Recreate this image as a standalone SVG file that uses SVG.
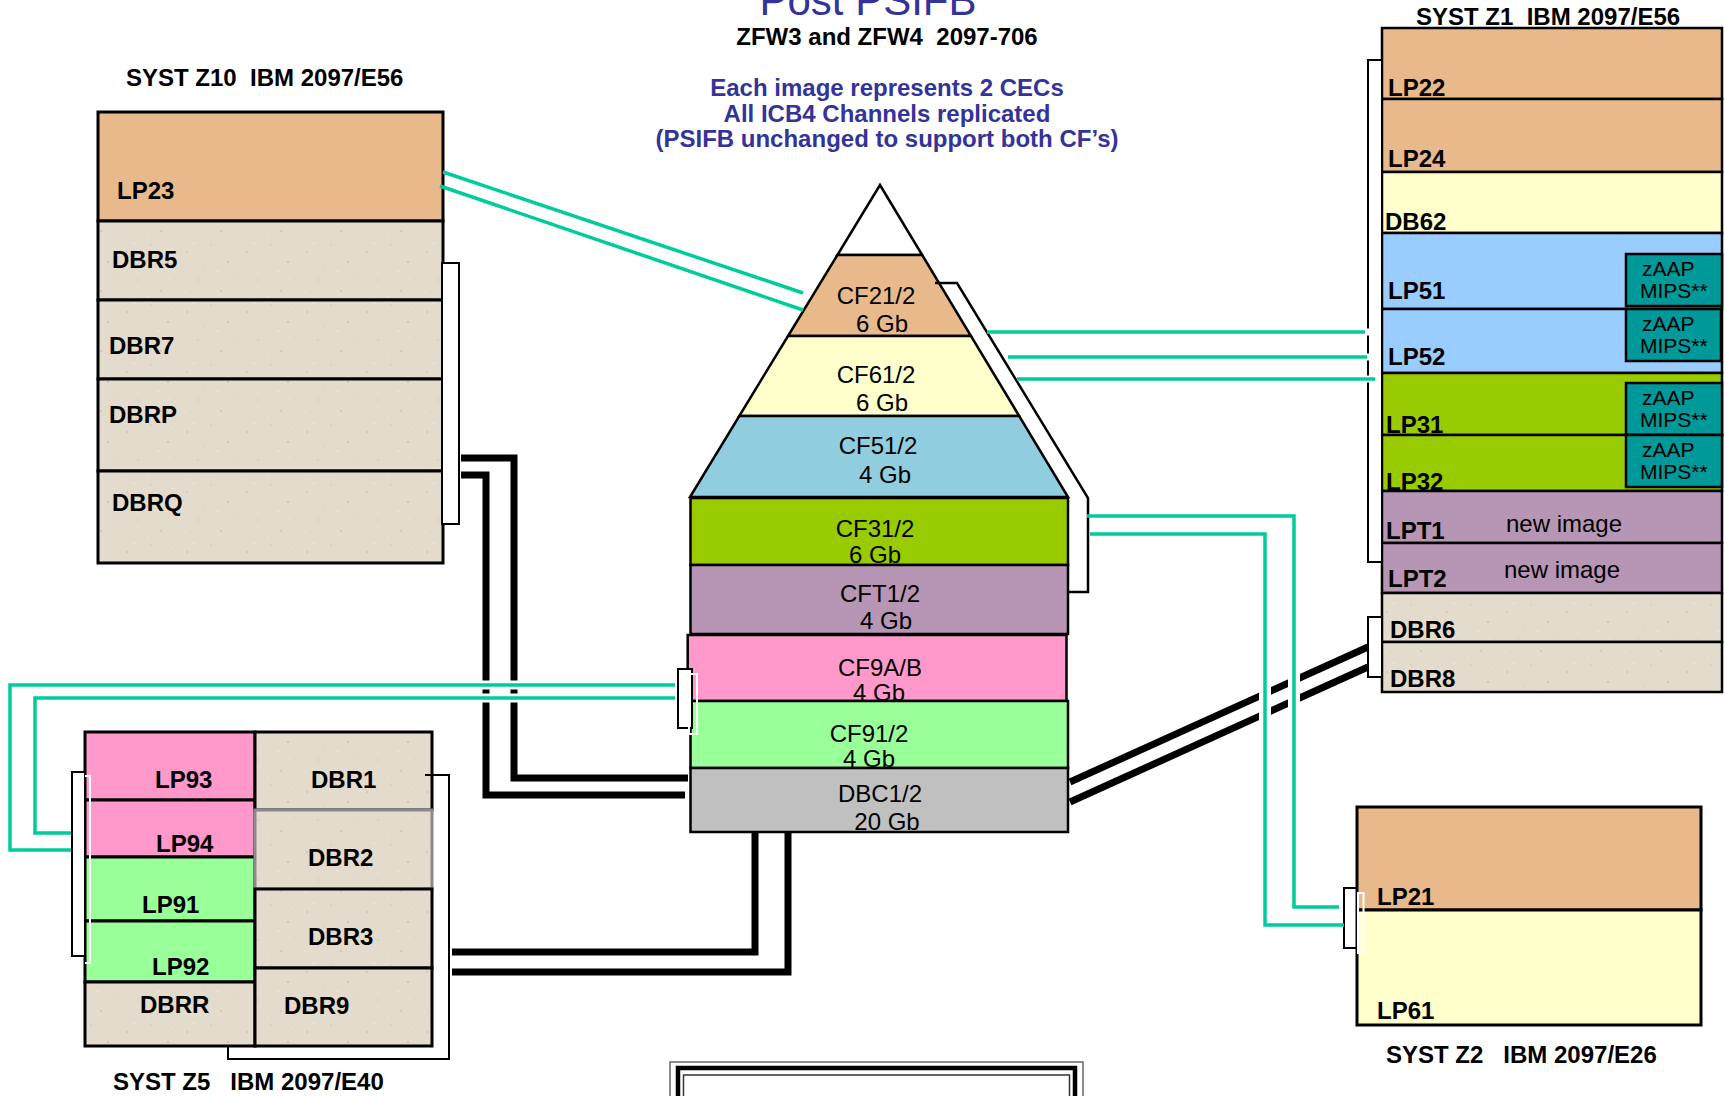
<svg xmlns="http://www.w3.org/2000/svg" width="1725" height="1096" viewBox="0 0 1725 1096">
<style>
text{font-family:"Liberation Sans",Arial,sans-serif;white-space:pre}
.lb{font-weight:bold;font-size:24px;fill:#000}
.cf{font-size:24px;fill:#000;text-anchor:middle}
.z{font-size:21px;fill:#000}
.hd{font-weight:bold;font-size:24px;fill:#333399;text-anchor:middle}
.o{stroke:#000;stroke-width:3}
.o2{stroke:#000;stroke-width:2.5}
.tan{fill:#e8b98a}
.yel{fill:#ffffcc}
.blu{fill:#99ccff}
.lim{fill:#99cc00}
.pur{fill:#b795b4}
.pnk{fill:#ff99cc}
.grn{fill:#99ff99}
.grt{fill:url(#granite)}
.teal{fill:#009999}
.br{fill:#fff;stroke:#000;stroke-width:2}
.wb{fill:none;stroke:#fff;stroke-width:2}
.k{fill:none;stroke:#000;stroke-width:7}
.h{fill:none;stroke:#fff;stroke-width:12}
.g{fill:none;stroke:#00cc99;stroke-width:3.5}
</style>
<defs>
<pattern id="granite" width="60" height="60" patternUnits="userSpaceOnUse">
<rect width="60" height="60" fill="#e3dbcc"/>
<g fill="#cbc1ae"><circle cx="7" cy="12" r="0.9"/><circle cx="31" cy="5" r="0.7"/><circle cx="48" cy="22" r="1"/><circle cx="18" cy="40" r="0.8"/><circle cx="41" cy="51" r="0.9"/><circle cx="55" cy="38" r="0.6"/><circle cx="24" cy="26" r="0.6"/></g>
<g fill="#efe9df"><circle cx="14" cy="3" r="0.9"/><circle cx="38" cy="31" r="1"/><circle cx="5" cy="52" r="0.8"/><circle cx="52" cy="8" r="0.8"/><circle cx="28" cy="57" r="0.7"/></g>
</pattern>
</defs>
<rect width="1725" height="1096" fill="#fff"/>

<g id="titles">
<text x="868" y="15" style="font-size:42px;fill:#333399;text-anchor:middle">Post PSIFB</text>
<text x="887" y="45" class="lb" style="text-anchor:middle">ZFW3 and ZFW4  2097-706</text>
<text x="887" y="96" class="hd">Each image represents 2 CECs</text>
<text x="887" y="122" class="hd">All ICB4 Channels replicated</text>
<text x="887" y="147" class="hd">(PSIFB unchanged to support both CF’s)</text>
</g>

<g id="syst-z10">
<text x="126" y="86" class="lb">SYST Z10  IBM 2097/E56</text>
<g id="lp23"><rect x="98" y="112" width="345" height="109" class="tan o"/><text x="117" y="199" class="lb">LP23</text></g>
<g id="dbr5"><rect x="98" y="221" width="345" height="79" class="grt o"/><text x="112" y="268" class="lb">DBR5</text></g>
<g id="dbr7"><rect x="98" y="300" width="345" height="79" class="grt o"/><text x="109" y="354" class="lb">DBR7</text></g>
<g id="dbrp"><rect x="98" y="379" width="345" height="92" class="grt o"/><text x="109" y="423" class="lb">DBRP</text></g>
<g id="dbrq"><rect x="98" y="471" width="345" height="92" class="grt o"/><text x="112" y="511" class="lb">DBRQ</text></g>
</g>

<g id="syst-z5">
<g id="lp93"><rect x="85" y="732" width="170" height="68" class="pnk o"/><text x="155" y="788" class="lb">LP93</text></g>
<g id="lp94"><rect x="85" y="800" width="170" height="57" class="pnk o"/><text x="156" y="852" class="lb">LP94</text></g>
<g id="lp91"><rect x="85" y="857" width="170" height="64" class="grn o"/><text x="142" y="913" class="lb">LP91</text></g>
<g id="lp92"><rect x="85" y="921" width="170" height="61" class="grn o"/><text x="152" y="975" class="lb">LP92</text></g>
<g id="dbrr"><rect x="85" y="982" width="170" height="64" class="grt o"/><text x="140" y="1013" class="lb">DBRR</text></g>
<g id="dbr1"><rect x="255" y="732" width="177" height="78" class="grt o"/><text x="311" y="788" class="lb">DBR1</text></g>
<g id="dbr2"><rect x="255" y="810" width="177" height="79" class="grt" stroke="#8a8a8a" stroke-width="3"/><text x="308" y="866" class="lb">DBR2</text></g>
<g id="dbr3"><rect x="255" y="889" width="177" height="79" class="grt o"/><text x="308" y="945" class="lb">DBR3</text></g>
<g id="dbr9"><rect x="255" y="968" width="177" height="78" class="grt o"/><text x="284" y="1014" class="lb">DBR9</text></g>
<text x="113" y="1090" class="lb">SYST Z5   IBM 2097/E40</text>
</g>

<g id="syst-z1">
<text x="1416" y="25" class="lb">SYST Z1  IBM 2097/E56</text>
<g id="lp22"><rect x="1382" y="28" width="340" height="71" class="tan o2"/><text x="1388" y="96" class="lb">LP22</text></g>
<g id="lp24"><rect x="1382" y="99" width="340" height="73" class="tan o2"/><text x="1388" y="167" class="lb">LP24</text></g>
<g id="db62"><rect x="1382" y="172" width="340" height="61" class="yel o2"/><text x="1385" y="230" class="lb">DB62</text></g>
<g id="lp51"><rect x="1382" y="233" width="340" height="76" class="blu o2"/><text x="1388" y="299" class="lb">LP51</text>
<rect x="1626" y="254" width="96" height="52" class="teal o2"/><text x="1642" y="276" class="z">zAAP</text><text x="1640" y="298" class="z">MIPS**</text></g>
<g id="lp52"><rect x="1382" y="309" width="340" height="64" class="blu o2"/><text x="1388" y="365" class="lb">LP52</text>
<rect x="1626" y="309" width="95" height="52" class="teal o2"/><text x="1642" y="331" class="z">zAAP</text><text x="1640" y="353" class="z">MIPS**</text></g>
<g id="lp31"><rect x="1382" y="373" width="340" height="62" class="lim o2"/><text x="1386" y="433" class="lb">LP31</text>
<rect x="1626" y="383" width="96" height="52" class="teal o2"/><text x="1642" y="405" class="z">zAAP</text><text x="1640" y="427" class="z">MIPS**</text></g>
<g id="lp32"><rect x="1382" y="435" width="340" height="56" class="lim o2"/><text x="1386" y="490" class="lb">LP32</text>
<rect x="1626" y="435" width="96" height="52" class="teal o2"/><text x="1642" y="457" class="z">zAAP</text><text x="1640" y="479" class="z">MIPS**</text></g>
<g id="lpt1"><rect x="1382" y="491" width="340" height="52" class="pur o2"/><text x="1386" y="539" class="lb">LPT1</text><text x="1564" y="532" class="cf">new image</text></g>
<g id="lpt2"><rect x="1382" y="543" width="340" height="50" class="pur o2"/><text x="1388" y="587" class="lb">LPT2</text><text x="1562" y="578" class="cf">new image</text></g>
<g id="dbr6"><rect x="1382" y="593" width="340" height="49" class="grt o2"/><text x="1390" y="638" class="lb">DBR6</text></g>
<g id="dbr8"><rect x="1382" y="642" width="340" height="50" class="grt o2"/><text x="1390" y="687" class="lb">DBR8</text></g>
</g>

<g id="syst-z2">
<g id="lp21"><rect x="1357" y="807" width="344" height="103" class="tan o"/><text x="1377" y="905" class="lb">LP21</text></g>
<g id="lp61"><rect x="1357" y="910" width="344" height="115" class="yel o"/><text x="1377" y="1019" class="lb">LP61</text></g>
<text x="1386" y="1063" class="lb">SYST Z2   IBM 2097/E26</text>
</g>

<g id="cf-stack">
<g id="apex"><polygon points="880,185 837.4,255 922.2,255" fill="#fff" class="o2"/></g>
<g id="cf21"><polygon points="837.4,255 922.2,255 971,336 788,336" class="tan o2"/><text x="876" y="304" class="cf">CF21/2</text><text x="882" y="332" class="cf">6 Gb</text></g>
<g id="cf61"><polygon points="788,336 971,336 1019.2,416 739.3,416" class="yel o2"/><text x="876" y="383" class="cf">CF61/2</text><text x="882" y="411" class="cf">6 Gb</text></g>
<g id="cf51"><polygon points="739.3,416 1019.2,416 1068,497 690,497" fill="#90cddf" class="o2"/><text x="878" y="454" class="cf">CF51/2</text><text x="885" y="483" class="cf">4 Gb</text></g>
<g id="cf31"><rect x="690.5" y="498" width="377.5" height="67" class="lim o2"/><text x="875" y="537" class="cf">CF31/2</text><text x="875" y="563" class="cf">6 Gb</text></g>
<g id="cft1"><rect x="690.5" y="565" width="377.5" height="69" class="pur o2"/><text x="880" y="602" class="cf">CFT1/2</text><text x="886" y="629" class="cf">4 Gb</text></g>
<g id="cf9ab"><rect x="687.7" y="635" width="378.8" height="66" class="pnk o2"/><text x="880" y="676" class="cf">CF9A/B</text><text x="879" y="701" class="cf">4 Gb</text></g>
<g id="cf91"><rect x="690.5" y="701" width="377.5" height="67" class="grn o2"/><text x="869" y="742" class="cf">CF91/2</text><text x="869" y="767" class="cf">4 Gb</text></g>
<g id="dbc1"><rect x="690.5" y="768" width="377.5" height="64" fill="#c0c0c0" class="o2"/><text x="880" y="802" class="cf">DBC1/2</text><text x="887" y="830" class="cf">20 Gb</text></g>
</g>

<g id="frame">
<rect x="670" y="1062" width="413" height="60" fill="none" stroke="#666" stroke-width="1.5"/>
<rect x="678" y="1068" width="397" height="60" fill="none" stroke="#000" stroke-width="4.5"/>
<rect x="683.5" y="1075" width="386" height="60" fill="none" stroke="#333" stroke-width="1.5"/>
</g>

<g id="connectors">
<rect x="442" y="263" width="17" height="261" class="br"/>
<rect x="72" y="772" width="13" height="184" class="br"/>
<polyline points="85,776 90,776 90,963 85,963" class="wb"/>
<rect x="678" y="669" width="14" height="59" class="br"/>
<rect x="689" y="674" width="8" height="60" class="wb"/>
<rect x="1344" y="888" width="12.5" height="60" class="br"/>
<rect x="1358" y="893" width="5.5" height="60" class="wb"/>
<rect x="1368" y="60" width="14" height="502" class="br"/>
<rect x="1368" y="617" width="14" height="60" class="br"/>
<polyline points="935,283 957,283 1088,498 1088,592 1068,592" fill="none" stroke="#000" stroke-width="2.5"/>
<polyline points="425,775 449,775 449,1059 228,1059 228,1047" fill="none" stroke="#000" stroke-width="2"/>

<path class="k" d="M461,458 H514 V778 H688"/>
<path class="k" d="M461,475 H486 V795 H685"/>
<path class="k" d="M755,832 V952 H452"/>
<path class="k" d="M788,832 V972 H452"/>
<path class="k" d="M1070,782 L1368,647"/>
<path class="k" d="M1070,802 L1368,667"/>

<g id="halos">
<path class="h" style="stroke-width:9" d="M477,685 H495 M505,685 H523 M477,698 H495 M505,698 H523"/>
<path class="h" d="M1294,673 V688 M1294,693 V708 M1265,686 V701 M1265,706 V721"/>
<path class="h" style="stroke-width:7" d="M1361,332 H1375 M1361,357 H1375 M1361,379 H1378"/>
</g>

<path class="g" d="M443,172 L803,293"/>
<path class="g" d="M440,186 L803,310"/>
<path class="g" d="M987,332 H1365"/>
<path class="g" d="M1008,357 H1367"/>
<path class="g" d="M1017,379 H1375"/>
<path class="g" d="M1087,516 H1294 V907 H1339"/>
<path class="g" d="M1090,534 H1265 V925 H1344"/>
<path class="g" d="M675,685 H10 V850 H71"/>
<path class="g" d="M675,698 H35 V833 H71"/>
</g>
</svg>
